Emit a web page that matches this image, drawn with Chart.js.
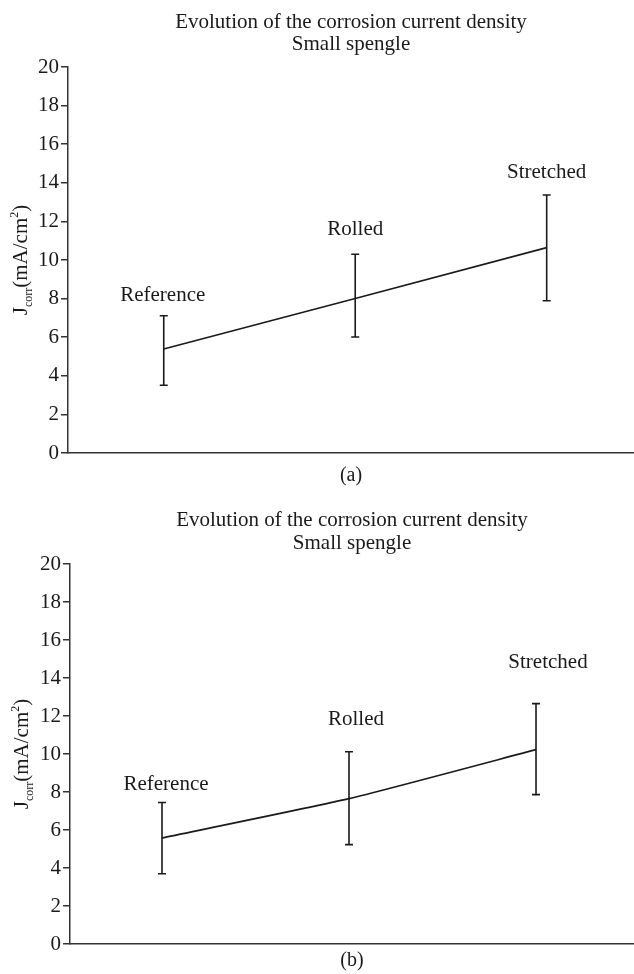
<!DOCTYPE html>
<html>
<head>
<meta charset="utf-8">
<script src="https://cdn.jsdelivr.net/npm/chart.js@4.4.1/dist/chart.umd.min.js"></script>
<style>
	body { margin: 0; background: #fff; }
	.box { position: relative; width: 634px; height: 487px; }
</style>
</head>
<body>
<div class="box"><canvas id="chartA"></canvas></div>
<div class="box"><canvas id="chartB"></canvas></div>
<script>
const categories = ["Reference", "Rolled", "Stretched"];
const titleLines = ["Evolution of the corrosion current density", "Small spengle"];
const yMin = 0;
const yMax = 20;
const yStep = 2;

// panel (a)
const meanA = [5.39, 8.01, 10.64];
const lowA = [3.51, 6.01, 7.89];
const highA = [7.11, 10.30, 13.37];
const labelAtA = [7.88, 11.30, 14.23];

// panel (b)
const meanB = [5.58, 7.65, 10.23];
const lowB = [3.70, 5.23, 7.86];
const highB = [7.45, 10.12, 12.65];
const labelAtB = [8.08, 11.54, 14.53];

const serif = '"Liberation Serif", "Times New Roman", serif';
const ink = '#1a1a1a';

const drawYLabel = (ctx, xBase, yMid) => {
	// J_corr (mA/cm^2), read bottom to top
	const parts = [
		["J", 21, 0], ["corr", 12, 5], ["(mA/cm", 21, 0], ["2", 12, -9], [")", 21, 0]
	];
	let total = 0;
	parts.forEach(p => {
		ctx.font = p[1] + 'px ' + serif;
		total += ctx.measureText(p[0]).width;
	});
	ctx.save();
	ctx.translate(xBase, yMid);
	ctx.rotate(-Math.PI / 2);
	ctx.textAlign = 'left';
	ctx.textBaseline = 'alphabetic';
	let pos = -total / 2;
	parts.forEach(p => {
		ctx.font = p[1] + 'px ' + serif;
		ctx.fillText(p[0], pos, p[2]);
		pos += ctx.measureText(p[0]).width;
	});
	ctx.restore();
};

const decor = {
	id: 'decor',
	afterDatasetsDraw(chart, args, opts) {
		const ctx = chart.ctx;
		const x = chart.scales.x;
		const y = chart.scales.y;
		const area = chart.chartArea;
		ctx.save();
		ctx.strokeStyle = ink;
		ctx.lineWidth = 1.6;
		opts.low.forEach((lo, i) => {
			const px = x.getPixelForValue(i + 1);
			const top = y.getPixelForValue(opts.high[i]);
			const bot = y.getPixelForValue(lo);
			ctx.beginPath();
			ctx.moveTo(px, top);
			ctx.lineTo(px, bot);
			ctx.moveTo(px - 4, top);
			ctx.lineTo(px + 4, top);
			ctx.moveTo(px - 4, bot);
			ctx.lineTo(px + 4, bot);
			ctx.stroke();
		});

		ctx.fillStyle = ink;
		ctx.font = '21px ' + serif;
		ctx.textAlign = 'center';
		ctx.textBaseline = 'alphabetic';
		categories.forEach((c, i) => {
			ctx.fillText(c, x.getPixelForValue(i + 1) + opts.labelDx[i], y.getPixelForValue(opts.labelAt[i]));
		});

		const cx = (area.left + area.right) / 2;
		titleLines.forEach((t, i) => ctx.fillText(t, cx, opts.titleY[i]));
		ctx.font = '20px ' + serif;
		ctx.fillText(opts.caption, cx, opts.captionY);

		drawYLabel(ctx, opts.yLabelX, (area.top + area.bottom) / 2);
		ctx.restore();
	}
};

const makeChart = (id, mean, low, high, labelAt, p) => new Chart(document.getElementById(id), {
	type: 'line',
	data: {
		datasets: [{
			data: mean.map((v, i) => ({ x: i + 1, y: v })),
			borderColor: ink,
			borderWidth: 1.6,
			pointRadius: 0,
			tension: p.tension,
			fill: false
		}]
	},
	options: {
		responsive: true,
		maintainAspectRatio: false,
		animation: false,
		layout: { padding: { top: p.top, bottom: p.bottom, left: 0, right: 0 } },
		plugins: {
			legend: { display: false },
			tooltip: { enabled: false },
			decor: {
				low: low,
				high: high,
				labelAt: labelAt,
				labelDx: p.labelDx,
				titleY: p.titleY,
				caption: p.caption,
				captionY: p.captionY,
				yLabelX: p.yLabelX
			}
		},
		scales: {
			x: {
				type: 'linear',
				min: p.xMin,
				max: p.xMax,
				grid: { display: false },
				ticks: { display: false },
				border: { color: '#333', width: 1.5 },
				afterFit: s => { s.height = 0; }
			},
			y: {
				min: yMin,
				max: yMax,
				ticks: { stepSize: yStep, color: ink, font: { family: serif, size: 21 }, padding: 2 },
				grid: { drawOnChartArea: false, tickLength: 7, color: '#333', lineWidth: 1.5 },
				border: { color: '#333', width: 1.5 },
				afterFit: s => { s.width = p.axisW; }
			}
		}
	},
	plugins: [decor]
});

window.onload = function () {
	makeChart('chartA', meanA, lowA, highA, labelAtA, {
		axisW: 68, top: 67, bottom: 34, tension: 0, xMin: 0.5, xMax: 3.456,
		labelDx: [-1, 0, 0], titleY: [28, 50], caption: '(a)', captionY: 481, yLabelX: 27
	});
	makeChart('chartB', meanB, lowB, highB, labelAtB, {
		axisW: 70, top: 77, bottom: 30, tension: 0.15, xMin: 0.508, xMax: 3.524,
		labelDx: [4, 7, 12], titleY: [39, 62], caption: '(b)', captionY: 479, yLabelX: 28
	});
};
</script>
</body>
</html>
